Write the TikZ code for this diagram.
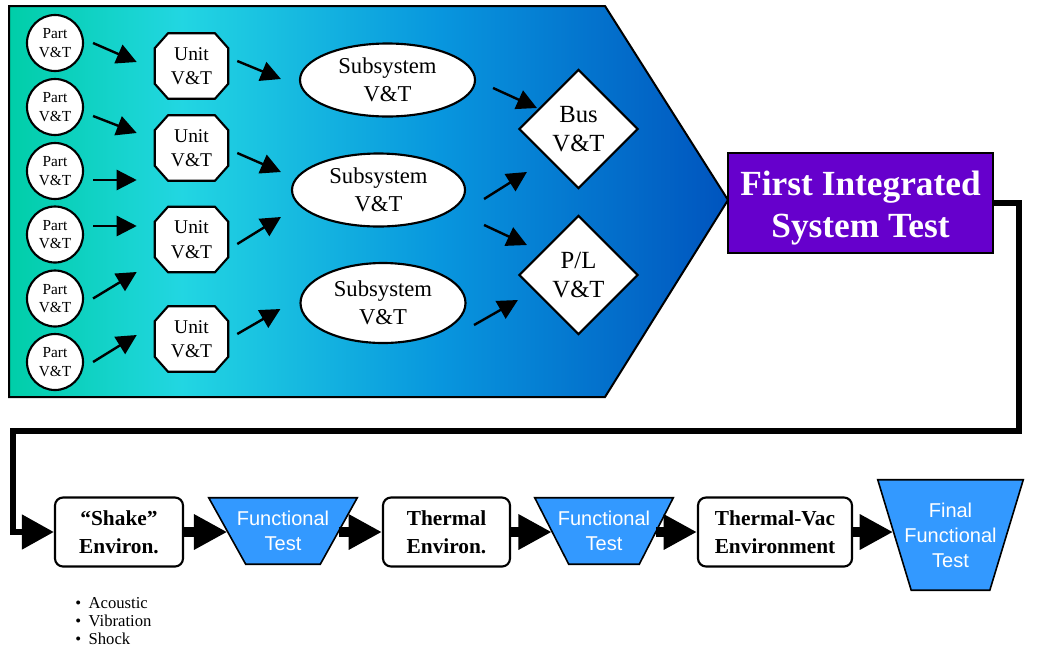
\documentclass[tikz,border=0pt]{standalone}
\usepackage{fontspec}
\setmainfont{Liberation Serif}
\newfontfamily\arialf{Liberation Sans}
\usetikzlibrary{shapes.geometric,arrows.meta,calc}
\definecolor{tealL}{RGB}{0,206,168}
\definecolor{cyanM}{RGB}{34,214,226}
\definecolor{blueM}{RGB}{8,150,222}
\definecolor{blueR}{RGB}{0,84,190}
\definecolor{purp}{RGB}{102,0,204}
\definecolor{ftblue}{RGB}{51,153,255}
\pgfdeclarehorizontalshading{bigshade}{100bp}{color(0bp)=(tealL); color(25bp)=(tealL); color(37bp)=(cyanM); color(55bp)=(blueM); color(75bp)=(blueR); color(100bp)=(blueR)}
\pgfdeclarelayer{bg}
\pgfdeclarelayer{mid}
\pgfsetlayers{bg,mid,main}
\begin{document}
\begin{tikzpicture}[x=0.75pt,y=-0.75pt,
  partc/.style={circle, draw, line width=1.6pt, fill=white, minimum size=42pt, inner sep=0pt, align=center, font=\fontsize{11.5}{13.7}\selectfont},
  unitn/.style={rectangle, minimum width=54.75pt, minimum height=48.75pt, inner sep=0pt, align=center, font=\fontsize{14.6}{18.3}\selectfont},
  octo/.style={draw, line width=1.6pt, fill=white},
  subsys/.style={ellipse, draw, line width=1.6pt, fill=white, inner sep=0pt, align=center, font=\fontsize{17}{20.8}\selectfont},
  dia/.style={diamond, draw, line width=1.6pt, fill=white, minimum width=89.25pt, minimum height=89.25pt, inner sep=0pt, align=center, font=\fontsize{18.5}{22}\selectfont},
  arr/.style={line width=1.8pt, -{Triangle[length=15pt,width=15pt]}},
  fistbox/.style={rectangle, draw=black, line width=1.6pt, fill=purp, text=white, minimum width=198.75pt, minimum height=75pt, inner sep=0pt, align=center, font=\fontsize{26.5}{31.5}\selectfont\bfseries},
  envbox/.style={rectangle, rounded corners=6pt, draw, line width=1.6pt, fill=white, minimum height=51.75pt, inner sep=0pt, align=center, font=\fontsize{16}{21}\selectfont\bfseries},
  ftn/.style={rectangle, inner sep=0pt, text=white, align=center, font=\arialf\fontsize{15}{18.8}\selectfont},
  trapline/.style={draw=black, line width=1.2pt, fill=ftblue},
  bigarr/.style={line width=7pt, -{Triangle[length=25pt,width=25pt]}},
  looparr/.style={line width=5pt, -{Triangle[length=24pt,width=25pt]}}
]
\useasboundingbox (0,0) rectangle (1055,647);

\begin{pgfonlayer}{bg}
\shadedraw[shading=bigshade, draw=black, line width=1.5pt] (9,6) -- (605,6) -- (728,200) -- (605,397) -- (9,397) -- cycle;
\end{pgfonlayer}

% Part nodes
\node[partc] (p1) at (55,43) {Part\\V\&T};
\node[partc] (p2) at (55,107) {Part\\V\&T};
\node[partc] (p3) at (55,171) {Part\\V\&T};
\node[partc] (p4) at (55,234.5) {Part\\V\&T};
\node[partc] (p5) at (55,298.5) {Part\\V\&T};
\node[partc] (p6) at (55,362) {Part\\V\&T};

% Unit nodes
\node[unitn] (u1) at (191.5,66) {Unit\\V\&T};
\node[unitn] (u2) at (191.5,148) {Unit\\V\&T};
\node[unitn] (u3) at (191.5,239.5) {Unit\\V\&T};
\node[unitn] (u4) at (191.5,339) {Unit\\V\&T};
\begin{pgfonlayer}{mid}
\foreach \n in {u1,u2,u3,u4}{
  \draw[octo] ([xshift=10pt]\n.north west) -- ([xshift=-10pt]\n.north east) -- ([yshift=-11.25pt]\n.north east) -- ([yshift=11.25pt]\n.south east) -- ([xshift=-10pt]\n.south east) -- ([xshift=10pt]\n.south west) -- ([yshift=11.25pt]\n.south west) -- ([yshift=-11.25pt]\n.north west) -- cycle;
}
\end{pgfonlayer}

% Subsystems
\node[subsys, minimum width=131.25pt, minimum height=54.75pt] (s1) at (387.5,80) {Subsystem\\V\&T};
\node[subsys, minimum width=129.75pt, minimum height=54.75pt] (s2) at (378.5,190) {Subsystem\\V\&T};
\node[subsys, minimum width=123.75pt, minimum height=60pt] (s3) at (383,303) {Subsystem\\V\&T};

% Diamonds
\node[dia] (bus) at (578.5,129) {Bus\\V\&T};
\node[dia] (pl) at (578.5,275) {P/L\\V\&T};

% First integrated system test
\node[fistbox] (fist) at (860.5,203) {\raisebox{-3.5pt}[\height][\depth]{\parbox{195pt}{\centering First Integrated\\System Test}}};

% Part -> Unit arrows
\draw[arr] ($(p1.east)+(9,0)$) -- ($(u1.west)+(-18,-4)$);
\draw[arr] ($(p2.east)+(9,9)$) -- ($(u2.west)+(-18,-15)$);
\draw[arr] ($(p3.east)+(9,9)$) -- ($(u2.west)+(-18,32)$);
\draw[arr] ($(p4.east)+(9,-8.5)$) -- ($(u3.west)+(-18,-13.5)$);
\draw[arr] ($(p5.east)+(9,0)$) -- ($(u3.west)+(-18,32.5)$);
\draw[arr] ($(p6.east)+(9,0)$) -- ($(u4.west)+(-18,-4)$);

% Unit -> Subsystem arrows
\draw[arr] ($(u1.east)+(9,-5)$) -- ($(s1.west)+(-18,-1)$);
\draw[arr] ($(u2.east)+(9,5)$) -- ($(s2.west)+(-10,-18)$);
\draw[arr] ($(u3.east)+(9,4.5)$) -- ($(s2.west)+(-10,27)$);
\draw[arr] ($(u4.east)+(9,-5)$) -- ($(s3.west)+(-19,6)$);

% Subsystem -> Bus / P/L arrows
\draw[arr] ($(s1.east)+(17,8)$) -- ($(bus.west)+(19,-21)$);
\draw[arr] ($(s2.east)+(18,9)$) -- ($(bus.west)+(9,43)$);
\draw[arr] ($(s2.east)+(18,35)$) -- ($(pl.west)+(9,-30)$);
\draw[arr] ($(s3.east)+(7.5,22)$) -- ($(pl.west)+(0,25)$);

% Bottom row
\node[envbox, minimum width=96pt] (shake) at (119,532) {“Shake”\\Environ.};
\node[ftn, minimum width=111pt, minimum height=49.5pt] (ft1) at (283,531) {Functional\\Test};
\node[envbox, minimum width=95.25pt] (therm) at (446.5,532) {Thermal\\Environ.};
\node[ftn, minimum width=103.5pt, minimum height=49.5pt] (ft2) at (604,531) {Functional\\Test};
\node[envbox, minimum width=115.5pt] (tvac) at (775,532) {Thermal-Vac\\Environment};
\node[ftn, minimum width=108.75pt, minimum height=82.5pt] (final) at (950.5,535) {Final\\Functional\\Test};
\begin{pgfonlayer}{mid}
\foreach \n/\d in {ft1/27.75pt, ft2/25.5pt, final/25.1pt}{
  \draw[trapline] (\n.north west) -- (\n.north east) -- ([xshift=-\d]\n.south east) -- ([xshift=\d]\n.south west) -- cycle;
}
\end{pgfonlayer}

\draw[bigarr] (shake.east) -- ([xshift=13.9pt]shake.east -| ft1.west);
\draw[bigarr] ([xshift=-13.9pt]ft1.east |- therm.west) -- (therm.west);
\draw[bigarr] (therm.east) -- ([xshift=12.75pt]therm.east -| ft2.west);
\draw[bigarr] ([xshift=-12.75pt]ft2.east |- tvac.west) -- (tvac.west);
\draw[bigarr] (tvac.east) -- ([xshift=11.5pt]tvac.east -| final.west);

% Loop connector
\coordinate (lr) at (1019,431);
\coordinate (ll) at (13,431);
\draw[looparr] (fist.east) -| (lr) -- (ll) |- (shake.west);

% Bullets
\node[anchor=west, align=left, inner sep=0pt, font=\fontsize{12.5}{13.2}\selectfont] (bul) at (75,621) {\textbullet\hspace{0.45em}Acoustic\\\textbullet\hspace{0.45em}Vibration\\\textbullet\hspace{0.45em}Shock};
\end{tikzpicture}
\end{document}
